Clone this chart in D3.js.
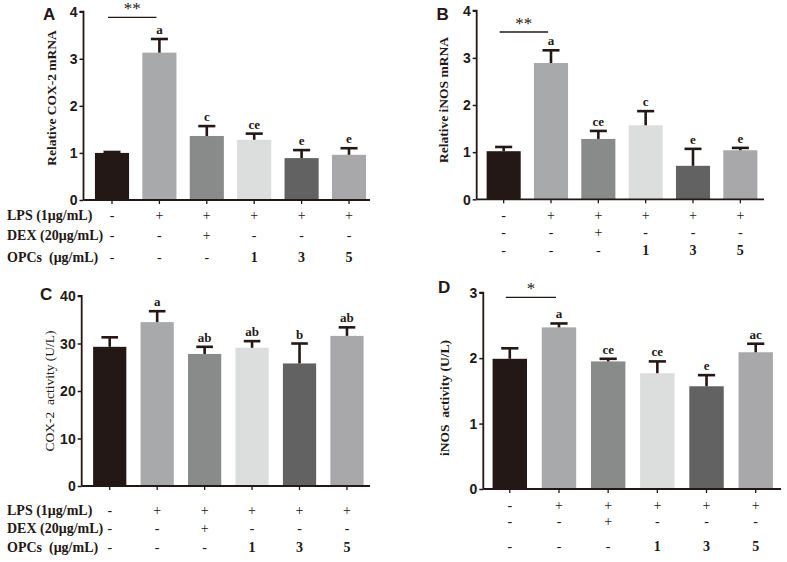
<!DOCTYPE html>
<html>
<head>
<meta charset="utf-8">
<script src="https://cdn.jsdelivr.net/npm/d3@7"></script>
<style>
  html, body { margin: 0; padding: 0; background: #fff; }
  svg { display: block; }
</style>
</head>
<body>
<svg id="chart" width="787" height="562"></svg>
<script>
// ---------- DATA ----------
const groups = ["G1", "G2", "G3", "G4", "G5", "G6"];
const rowLabels = ["LPS (1μg/mL)", "DEX (20μg/mL)", "OPCs  (μg/mL)"];
const lpsRow = ["-", "+", "+", "+", "+", "+"];
const dexRow = ["-", "-", "+", "-", "-", "-"];
const opcRow = ["-", "-", "-", "1", "3", "5"];
const barColors = ["#231815", "#a8a9ab", "#898a8a", "#dcdddd", "#626262", "#a8a8ab"];

// A: Relative COX-2 mRNA
const cox2mRNA = [1.00, 3.13, 1.36, 1.28, 0.89, 0.96];
const cox2mRNAErr = [0.02, 0.29, 0.21, 0.13, 0.17, 0.14];
const cox2mRNALetters = ["", "a", "c", "ce", "e", "e"];
const cox2mRNATicks = [0, 1, 2, 3, 4];

// B: Relative iNOS mRNA
const inosMRNA = [1.02, 2.89, 1.28, 1.57, 0.71, 1.04];
const inosMRNAErr = [0.09, 0.27, 0.17, 0.30, 0.36, 0.05];
const inosMRNALetters = ["", "a", "ce", "c", "e", "e"];
const inosMRNATicks = [0, 1, 2, 3, 4];

// C: COX-2 activity (U/L)
const cox2Activity = [29.3, 34.5, 27.8, 29.1, 25.8, 31.6];
const cox2ActivityErr = [2.0, 2.3, 1.5, 1.4, 4.2, 1.8];
const cox2ActivityLetters = ["", "a", "ab", "ab", "b", "ab"];
const cox2ActivityTicks = [0, 10, 20, 30, 40];

// D: iNOS activity (U/L)
const inosActivity = [1.99, 2.47, 1.95, 1.77, 1.57, 2.09];
const inosActivityErr = [0.16, 0.06, 0.04, 0.18, 0.17, 0.13];
const inosActivityLetters = ["", "a", "ce", "ce", "e", "ac"];
const inosActivityTicks = [0, 1, 2, 3];

// ---------- DRAW ----------
const svg = d3.select("#chart");
const ink = "#231815";
const serif = "'Liberation Serif', 'Times New Roman', serif";
const sans = "'Liberation Sans', Arial, sans-serif";

function panel(cfg) {
  const g = svg.append("g");
  const x = d3.scaleBand().domain(groups).range(cfg.xr).paddingInner(cfg.pad).paddingOuter(cfg.pad / 2);
  const y = d3.scaleLinear().domain([0, cfg.max]).range(cfg.yr);

  // bars
  g.selectAll("rect.bar").data(cfg.values).join("rect")
    .attr("x", (d, i) => x(groups[i]))
    .attr("y", d => y(d))
    .attr("width", x.bandwidth())
    .attr("height", d => y(0) - y(d))
    .attr("fill", (d, i) => barColors[i]);

  // error bars (upper only)
  const capW = x.bandwidth() * 0.5;
  cfg.values.forEach((v, i) => {
    const cx = x(groups[i]) + x.bandwidth() / 2;
    const top = v + cfg.err[i];
    g.append("line").attr("x1", cx).attr("x2", cx).attr("y1", y(v)).attr("y2", y(top))
      .attr("stroke", ink).attr("stroke-width", 2.6);
    g.append("line").attr("x1", cx - capW / 2).attr("x2", cx + capW / 2).attr("y1", y(top)).attr("y2", y(top))
      .attr("stroke", ink).attr("stroke-width", 2.6);
    if (cfg.letters[i]) {
      g.append("text").attr("x", cx).attr("y", y(top) - 5)
        .attr("text-anchor", "middle").attr("font-family", serif).attr("font-weight", "bold")
        .attr("font-size", 13).attr("fill", ink).text(cfg.letters[i]);
    }
  });

  // y axis
  const yAxis = d3.axisLeft(y).tickValues(cfg.ticks).tickSize(4).tickPadding(2).tickFormat(d3.format("d"));
  const ya = g.append("g").attr("transform", `translate(${cfg.axisX},0)`).call(yAxis);
  ya.select(".domain").attr("stroke", ink).attr("stroke-width", 1.8).attr("d", `M-4,${cfg.yr[1]}H0V${cfg.yr[0]}`);
  ya.selectAll(".tick line").attr("stroke", ink).attr("stroke-width", 1.5);
  ya.selectAll(".tick text").attr("font-family", sans).attr("font-weight", "bold").attr("font-size", 14).attr("fill", ink).attr("dy", "0.34em");

  // x axis
  const xAxis = d3.axisBottom(x).tickSize(4).tickFormat("");
  const xa = g.append("g").attr("transform", `translate(0,${cfg.yr[0]})`).call(xAxis);
  xa.select(".domain").attr("stroke", ink).attr("stroke-width", 1.8).attr("d", `M${cfg.axisX},0H${cfg.xEnd}`);
  xa.selectAll(".tick line").attr("stroke", ink).attr("stroke-width", 1.3);

  // panel letter
  g.append("text").attr("x", cfg.labelPos[0]).attr("y", cfg.labelPos[1])
    .attr("font-family", sans).attr("font-weight", "bold").attr("font-size", 17).attr("fill", ink).text(cfg.label);

  // y title
  g.append("text").attr("transform", `translate(${cfg.titlePos[0]},${cfg.titlePos[1]}) rotate(-90)`)
    .attr("text-anchor", "middle").attr("font-family", serif).attr("font-weight", cfg.titleWeight)
    .attr("font-size", 13.5).attr("fill", ink).style("white-space", "pre").text(cfg.title);

  // significance bracket
  if (cfg.sig) {
    const x1 = x(groups[0]) + x.bandwidth() / 2 - 4;
    const x2 = x(groups[1]) + x.bandwidth() / 2 - 3;
    g.append("line").attr("x1", x1).attr("x2", x2).attr("y1", cfg.sigY).attr("y2", cfg.sigY)
      .attr("stroke", ink).attr("stroke-width", 1.3);
    g.append("text").attr("x", (x1 + x2) / 2).attr("y", cfg.sigY - 3)
      .attr("text-anchor", "middle").attr("font-family", serif).attr("font-size", 17).attr("fill", ink).text(cfg.sig);
  }

  // condition table
  const rows = [lpsRow, dexRow, opcRow];
  rows.forEach((row, r) => {
    if (cfg.showRowLabels) {
      g.append("text").attr("x", 7).attr("y", cfg.rowY[r])
        .attr("font-family", serif).attr("font-weight", "bold").attr("font-size", 14).attr("fill", ink)
        .style("white-space", "pre").text(rowLabels[r]);
    }
    row.forEach((s, i) => {
      const cx = x(groups[i]) + x.bandwidth() / 2;
      const isNum = !(s === "-" || s === "+");
      g.append("text").attr("x", cx).attr("y", cfg.rowY[r])
        .attr("text-anchor", "middle").attr("font-family", serif)
        .attr("font-weight", isNum ? "bold" : "normal").attr("font-size", 14).attr("fill", ink).text(s);
    });
  });
}

panel({
  label: "A", labelPos: [43, 20], values: cox2mRNA, err: cox2mRNAErr, letters: cox2mRNALetters,
  ticks: cox2mRNATicks, max: 4, yr: [200, 11.7], xr: [88.3, 372.7], pad: 0.28, axisX: 83.5, xEnd: 370,
  title: "Relative COX-2 mRNA", titleWeight: "bold", titlePos: [56, 98],
  sig: "**", sigY: 17.3, showRowLabels: true, rowY: [220, 240, 261.5]
});
panel({
  label: "B", labelPos: [436.5, 19.5], values: inosMRNA, err: inosMRNAErr, letters: inosMRNALetters,
  ticks: inosMRNATicks, max: 4, yr: [199.3, 10.7], xr: [480, 764], pad: 0.28, axisX: 476.7, xEnd: 764,
  title: "Relative iNOS mRNA", titleWeight: "bold", titlePos: [448, 100],
  sig: "**", sigY: 32, showRowLabels: false, rowY: [220, 237, 255]
});
panel({
  label: "C", labelPos: [40, 300], values: cox2Activity, err: cox2ActivityErr, letters: cox2ActivityLetters,
  ticks: cox2ActivityTicks, max: 40, yr: [486, 296], xr: [86, 370.7], pad: 0.3, axisX: 81.7, xEnd: 370,
  title: "COX-2  activity (U/L)", titleWeight: "normal", titlePos: [54, 391],
  sig: null, showRowLabels: true, rowY: [515, 533, 552]
});
panel({
  label: "D", labelPos: [438, 293], values: inosActivity, err: inosActivityErr, letters: inosActivityLetters,
  ticks: inosActivityTicks, max: 3, yr: [489, 292.7], xr: [485.2, 780.3], pad: 0.3, axisX: 483.3, xEnd: 781,
  title: "iNOS  activity (U/L)", titleWeight: "bold", titlePos: [449, 398],
  sig: "*", sigY: 297.3, showRowLabels: false, rowY: [510, 526, 551]
});
</script>
</body>
</html>
